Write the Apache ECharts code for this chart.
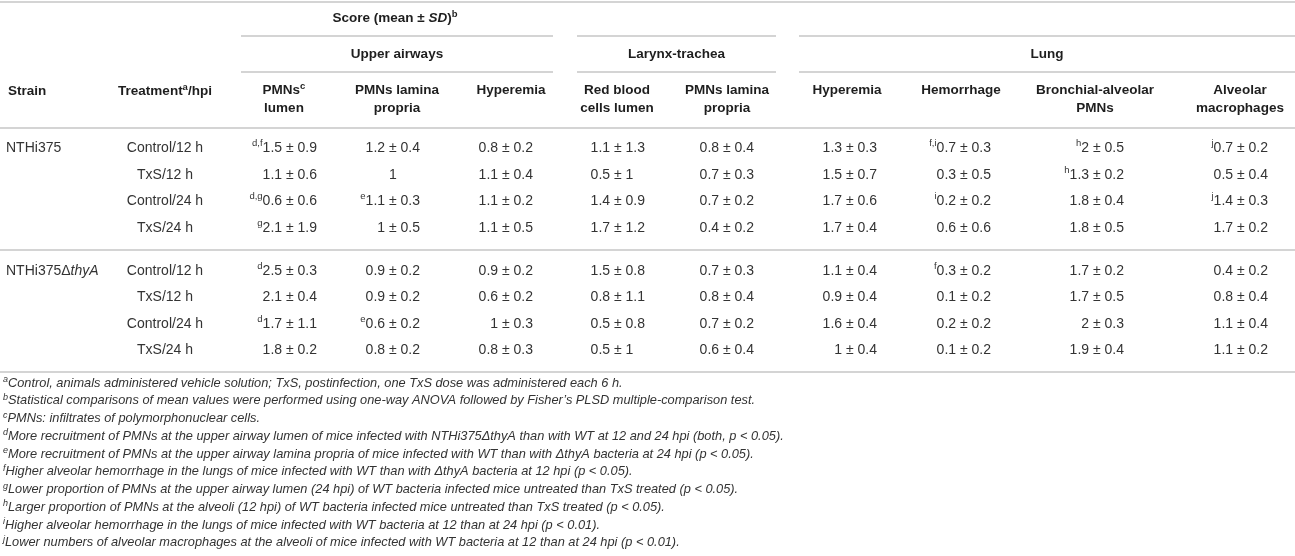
<!DOCTYPE html>
<html><head><meta charset="utf-8">
<script src="https://cdn.jsdelivr.net/npm/echarts@6/dist/echarts.min.js"></script>
<style>html,body{margin:0;padding:0;background:#fff}#c{width:1295px;height:556px}</style>
</head><body><div id="c"></div>
<script>
// ---------- DATA ----------
const strains = ['NTHi375', 'NTHi375ΔthyA'];
const treatments = ['Control/12 h','TxS/12 h','Control/24 h','TxS/24 h','Control/12 h','TxS/12 h','Control/24 h','TxS/24 h'];
const scoreTitle = ['Score (mean ± ', 'SD', ')', 'b'];
const groups = ['Upper airways', 'Larynx-trachea', 'Lung'];
const strainHeader = 'Strain';
const treatmentHeader = ['Treatment', 'a', '/hpi'];
const columnHeaders = [
  [['PMNs','c'], ['lumen']],
  [['PMNs lamina'], ['propria']],
  [['Hyperemia']],
  [['Red blood'], ['cells lumen']],
  [['PMNs lamina'], ['propria']],
  [['Hyperemia']],
  [['Hemorrhage']],
  [['Bronchial-alveolar'], ['PMNs']],
  [['Alveolar'], ['macrophages']]
];
const pmnsLumenMean = [1.5, 1.1, 0.6, 2.1, 2.5, 2.1, 1.7, 1.8];
const pmnsLumenSD   = [0.9, 0.6, 0.6, 1.9, 0.3, 0.4, 1.1, 0.2];
const pmnsLumenSup  = ['d,f', '', 'd,g', 'g', 'd', '', 'd', ''];
const pmnsLaminaUAMean = [1.2, 1, 1.1, 1, 0.9, 0.9, 0.6, 0.8];
const pmnsLaminaUASD   = [0.4, null, 0.3, 0.5, 0.2, 0.2, 0.2, 0.2];
const pmnsLaminaUASup  = ['', '', 'e', '', '', '', 'e', ''];
const hyperemiaUAMean = [0.8, 1.1, 1.1, 1.1, 0.9, 0.6, 1, 0.8];
const hyperemiaUASD   = [0.2, 0.4, 0.2, 0.5, 0.2, 0.2, 0.3, 0.3];
const rbcLumenMean = [1.1, 0.5, 1.4, 1.7, 1.5, 0.8, 0.5, 0.5];
const rbcLumenSD   = [1.3, 1, 0.9, 1.2, 0.8, 1.1, 0.8, 1];
const pmnsLaminaLTMean = [0.8, 0.7, 0.7, 0.4, 0.7, 0.8, 0.7, 0.6];
const pmnsLaminaLTSD   = [0.4, 0.3, 0.2, 0.2, 0.3, 0.4, 0.2, 0.4];
const hyperemiaLungMean = [1.3, 1.5, 1.7, 1.7, 1.1, 0.9, 1.6, 1];
const hyperemiaLungSD   = [0.3, 0.7, 0.6, 0.4, 0.4, 0.4, 0.4, 0.4];
const hemorrhageMean = [0.7, 0.3, 0.2, 0.6, 0.3, 0.1, 0.2, 0.1];
const hemorrhageSD   = [0.3, 0.5, 0.2, 0.6, 0.2, 0.2, 0.2, 0.2];
const hemorrhageSup  = ['f,i', '', 'i', '', 'f', '', '', ''];
const bronchialMean = [2, 1.3, 1.8, 1.8, 1.7, 1.7, 2, 1.9];
const bronchialSD   = [0.5, 0.2, 0.4, 0.5, 0.2, 0.5, 0.3, 0.4];
const bronchialSup  = ['h', 'h', '', '', '', '', '', ''];
const macrophagesMean = [0.7, 0.5, 1.4, 1.7, 0.4, 0.8, 1.1, 1.1];
const macrophagesSD   = [0.2, 0.4, 0.3, 0.2, 0.2, 0.4, 0.4, 0.2];
const macrophagesSup  = ['j', '', 'j', '', '', '', '', ''];
const footnoteKeys = ['a','b','c','d','e','f','g','h','i','j'];
const footnotes = [
  'Control, animals administered vehicle solution; TxS, postinfection, one TxS dose was administered each 6 h.',
  'Statistical comparisons of mean values were performed using one-way ANOVA followed by Fisher\u2019s PLSD multiple-comparison test.',
  'PMNs: infiltrates of polymorphonuclear cells.',
  'More recruitment of PMNs at the upper airway lumen of mice infected with NTHi375\u0394thyA than with WT at 12 and 24 hpi (both, p < 0.05).',
  'More recruitment of PMNs at the upper airway lamina propria of mice infected with WT than with \u0394thyA bacteria at 24 hpi (p < 0.05).',
  'Higher alveolar hemorrhage in the lungs of mice infected with WT than with \u0394thyA bacteria at 12 hpi (p < 0.05).',
  'Lower proportion of PMNs at the upper airway lumen (24 hpi) of WT bacteria infected mice untreated than TxS treated (p < 0.05).',
  'Larger proportion of PMNs at the alveoli (12 hpi) of WT bacteria infected mice untreated than TxS treated (p < 0.05).',
  'Higher alveolar hemorrhage in the lungs of mice infected with WT bacteria at 12 than at 24 hpi (p < 0.01).',
  'Lower numbers of alveolar macrophages at the alveoli of mice infected with WT bacteria at 12 than at 24 hpi (p < 0.01).'
];

// ---------- LAYOUT (positions in axis units = page pixels) ----------
const W = 1295, H = 556;
const colRight   = [317, 420, 533, 645, 754, 877, 991, 1124, 1268];
const colHeaderX = [284, 397, 511, 617, 727, 847, 961, 1095, 1240];
const headerLineY = [90, 108];
const rowY = [148, 174.7, 201.3, 228, 271, 297.5, 324, 350.5];
const groupSpans = [[241, 553], [577, 776], [799, 1295]];
const strainX = 6, treatX = 165, labelHeadY = 91;
const scoreX = 395, scoreY = 18, groupLabelY = 54;
const ruleFull = [2, 128, 250, 372];
const ruleSplit = [36, 72];
const footX = 3, footY0 = 383, footStep = 17.75;

// ---------- STYLES ----------
const FF = '"Liberation Sans", Arial, Helvetica, sans-serif';
const TXT = '#333333', HEAD = '#1e1e1e';
const VFS = 14;
const rich = {
  v:  {fontFamily: FF, fontSize: VFS, fill: TXT, lineHeight: 19},
  vi: {fontFamily: FF, fontSize: VFS, fill: TXT, fontStyle: 'italic', lineHeight: 19},
  s:  {fontFamily: FF, fontSize: 9.5, fill: TXT, lineHeight: 10, verticalAlign: 'top'},
  b:  {fontFamily: FF, fontSize: 13.5, fill: HEAD, fontWeight: 'bold', lineHeight: 18},
  bi: {fontFamily: FF, fontSize: 13.5, fill: HEAD, fontWeight: 'bold', fontStyle: 'italic', lineHeight: 18},
  bs: {fontFamily: FF, fontSize: 9.5, fill: HEAD, fontWeight: 'bold', lineHeight: 10, verticalAlign: 'top'},
  f:  {fontFamily: FF, fontSize: 12.8, fill: TXT, fontStyle: 'italic', lineHeight: 16},
  fs: {fontFamily: FF, fontSize: 9, fill: TXT, fontStyle: 'italic', lineHeight: 9, verticalAlign: 'top'}
};
const mctx = document.createElement('canvas').getContext('2d');
mctx.font = VFS + 'px ' + FF;
const sdW = mctx.measureText('± 0.0').width;
const spW = mctx.measureText(' ').width;
const pmW = mctx.measureText('±').width;

// ---------- BUILD ITEMS ----------
const items = [];
function add(x, y, text, align) { items.push({x, y, text, align}); }

add(scoreX, scoreY, `{b|${scoreTitle[0]}}{bi|${scoreTitle[1]}}{b|${scoreTitle[2]}}{bs|${scoreTitle[3]}}`, 'center');
groups.forEach((g, i) => add((groupSpans[i][0] + groupSpans[i][1]) / 2, groupLabelY, `{b|${g}}`, 'center'));
add(strainX + 2, labelHeadY, `{b|${strainHeader}}`, 'left');
add(treatX, labelHeadY, `{b|${treatmentHeader[0]}}{bs|${treatmentHeader[1]}}{b|${treatmentHeader[2]}}`, 'center');
columnHeaders.forEach((lines, c) => lines.forEach((ln, k) => {
  const t = `{b|${ln[0]}}` + (ln[1] ? `{bs|${ln[1]}}` : '');
  add(colHeaderX[c], headerLineY[k], t, 'center');
}));
add(strainX, rowY[0], `{v|${strains[0]}}`, 'left');
{
  const m = strains[1].match(/^(.*Δ)(.*)$/);
  add(strainX, rowY[4], `{v|${m[1]}}{vi|${m[2]}}`, 'left');
}
treatments.forEach((t, r) => add(treatX, rowY[r], `{v|${t}}`, 'center'));

const valueCols = [
  [pmnsLumenMean, pmnsLumenSD, pmnsLumenSup],
  [pmnsLaminaUAMean, pmnsLaminaUASD, pmnsLaminaUASup],
  [hyperemiaUAMean, hyperemiaUASD, null],
  [rbcLumenMean, rbcLumenSD, null],
  [pmnsLaminaLTMean, pmnsLaminaLTSD, null],
  [hyperemiaLungMean, hyperemiaLungSD, null],
  [hemorrhageMean, hemorrhageSD, hemorrhageSup],
  [bronchialMean, bronchialSD, bronchialSup],
  [macrophagesMean, macrophagesSD, macrophagesSup]
];
valueCols.forEach(([mean, sd, sup], c) => mean.forEach((m, r) => {
  const anchor = colRight[c] - sdW;
  const s = sup && sup[r] ? `{s|${sup[r]}}` : '';
  const left = s + `{v|${m}}`;
  if (sd[r] == null) {
    add(anchor + pmW / 2, rowY[r], left, 'center');
  } else {
    add(anchor - spW, rowY[r], left, 'right');
    add(anchor, rowY[r], `{v|± ${sd[r]}}`, 'left');
  }
}));
footnotes.forEach((f, i) => {
  add(footX, footY0 + i * footStep, `{fs|${footnoteKeys[i]}}{f|${f}}`, 'left');
});

const rules = [];
ruleFull.forEach(y => rules.push([0, y, W, y]));
ruleSplit.forEach(y => groupSpans.forEach(([a, b]) => rules.push([a, y, b, y])));

// ---------- CHART ----------
const chart = echarts.init(document.getElementById('c'), null, {renderer: 'canvas'});
chart.setOption({
  animation: false,
  backgroundColor: '#ffffff',
  grid: {left: 0, right: 0, top: 0, bottom: 0},
  xAxis: {type: 'value', min: 0, max: W, show: false},
  yAxis: {type: 'value', min: 0, max: H, inverse: true, show: false},
  series: [
    {
      type: 'custom', clip: false, silent: true,
      encode: {x: [0, 2], y: [1, 3]},
      data: rules,
      renderItem: (params, api) => {
        const p1 = api.coord([api.value(0), api.value(1)]);
        const p2 = api.coord([api.value(2), api.value(3)]);
        return {type: 'line', shape: {x1: p1[0], y1: p1[1], x2: p2[0], y2: p2[1]},
                style: {stroke: '#c6c6c6', lineWidth: 1.6}};
      }
    },
    {
      type: 'custom', clip: false, silent: true,
      encode: {x: 0, y: 1},
      data: items.map(it => [it.x, it.y]),
      renderItem: (params, api) => {
        const it = items[params.dataIndex];
        const p = api.coord([api.value(0), api.value(1)]);
        return {type: 'text', x: p[0], y: p[1],
                style: {text: it.text, rich: rich, align: it.align, verticalAlign: 'middle',
                        fontFamily: FF, fontSize: VFS, fill: TXT}};
      }
    }
  ]
});
</script></body></html>
